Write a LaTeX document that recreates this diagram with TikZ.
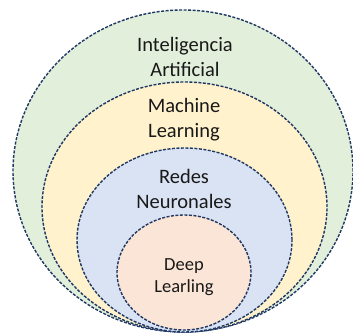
\documentclass[tikz,border=0pt]{standalone}
\usepackage{fontspec}
\setmainfont{Carlito}
\usepackage{tikz}
\usetikzlibrary{shapes.geometric}
\definecolor{aigreen}{HTML}{E2EFDA}
\definecolor{mlyellow}{HTML}{FFF2CC}
\definecolor{nnblue}{HTML}{DAE3F3}
\definecolor{dlpink}{HTML}{FBE5D6}
\definecolor{rimblue}{HTML}{1F3864}
\tikzset{
  setbox/.style={ellipse, draw=rimblue, line width=1.4pt, dash pattern=on 3pt off 1.5pt, inner sep=0pt},
  setlabel/.style={align=center, font=\fontsize{20.5}{25}\selectfont, text=black!90}
}

\begin{document}
\begin{tikzpicture}[x=1pt, y=-1pt]
  \useasboundingbox (0,0) rectangle (353,334);

  % Nested sets
  \node[setbox, fill=aigreen, minimum width=340pt, minimum height=322pt] (ai) at (183,171) {};
  \node[setbox, fill=mlyellow, minimum width=285pt, minimum height=250pt] (ml) at (184.5,207) {};
  \node[setbox, fill=nnblue, minimum width=215pt, minimum height=184pt] (nn) at (184.5,240) {};
  \node[setbox, fill=dlpink, minimum width=134pt, minimum height=115pt] (dl) at (184,272.5) {};

  % Labels
  \node[setlabel] (ailabel) at (185,57) {Inteligencia\\Artificial};
  \node[setlabel] (mllabel) at (184,120) {Machine\\Learning};
  \node[setlabel] (nnlabel) at (184,189) {Redes\\Neuronales};
  \node[setlabel, font=\fontsize{18.5}{22}\selectfont] (dllabel) at (184,277.5) {Deep\\Learling};
\end{tikzpicture}
\end{document}
